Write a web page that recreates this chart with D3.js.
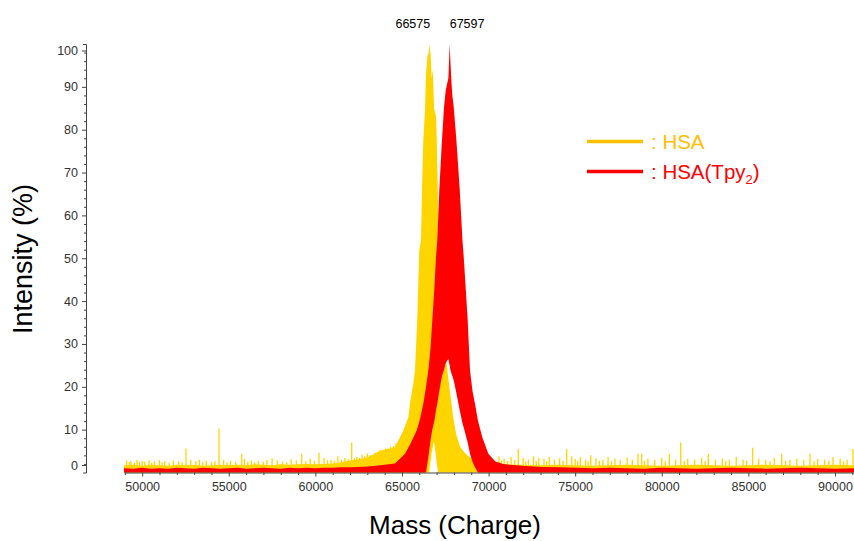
<!DOCTYPE html>
<html>
<head>
<meta charset="utf-8">
<script src="https://cdn.jsdelivr.net/npm/d3@7"></script>
<style>
  body { margin: 0; background: #fff; }
  svg { display: block; font-family: "Liberation Sans", Arial, sans-serif; }
</style>
</head>
<body>
<div id="wrapper"></div>
<script>
// HSA (yellow) trace: mass, upper and lower envelope (%)
const hsaMass = [48950, 49500, 50000, 50500, 51000, 51500, 52000, 52500, 53000, 53500, 54000, 54500, 55000, 55500, 56000, 56500, 57000, 57500, 58000, 58500, 59000, 59500, 60000, 60500, 61000, 61500, 62000, 62500, 63000, 63730, 64600, 64890, 65080, 65370, 65460, 65655, 65753, 65886, 66001, 66099, 66157, 66232, 66330, 66387, 66463, 66540, 66575, 66610, 66665, 66711, 66780, 66815, 66855, 66970, 67011, 67069, 67086, 67173, 67260, 67375, 67589, 67722, 67953, 68126, 68357, 68646, 68928, 69390, 70083, 70950, 72000, 73000, 74000, 75000, 76000, 77000, 78000, 79000, 80000, 81000, 82000, 83000, 84000, 85000, 86000, 87000, 88000, 89000, 90000, 91100]
const hsaHigh = [1.7, 1.8, 1.6, 1.8, 1.7, 1.6, 1.8, 1.7, 1.8, 1.6, 1.7, 1.8, 1.7, 1.8, 1.7, 1.9, 1.8, 1.7, 1.9, 1.8, 1.9, 2.0, 1.9, 2.0, 2.1, 2.4, 2.8, 3.1, 3.5, 5.1, 5.9, 8.2, 9.8, 12.9, 16.1, 20.7, 23.8, 36.3, 51.9, 54.2, 65.9, 77.6, 84.6, 93, 97, 98, 100, 99, 97, 92, 94, 90, 85, 83, 77.6, 66, 54, 45, 38, 32, 25, 20.5, 13, 9, 6, 4.5, 3.5, 2.6, 2.2, 1.9, 1.8, 1.7, 1.8, 1.7, 1.6, 1.7, 1.8, 1.7, 1.6, 1.7, 1.8, 1.7, 1.6, 1.7, 1.8, 1.7, 1.6, 1.7, 1.8, 1.7]
const hsaLow = [0, 0, 0, 0, 0, 0, 0, 0, 0, 0, 0, 0, 0, 0, 0, 0, 0, 0, 0, 0, 0, 0, 0, 0, 0, 0, 0, 0, 0, 0, 0, 0, 0, 0, 0, 0, 0, 0, 0, 0, 0, 0, 0, 0, 0, 0, 0, 1.5, 3, 4.5, 6, 6.8, 7.2, 3.5, 2, 0.5, 0, 0, 0, 0, 0, 0, 0, 0, 0, 0, 0, 0, 0, 0, 0, 0, 0, 0, 0, 0, 0, 0, 0, 0, 0, 0, 0, 0, 0, 0, 0, 0, 0, 0]

// HSA baseline noise spikes
const hsaSpikeMass = [49100, 49250, 49350, 49550, 49700, 49850, 50000, 50150, 50400, 50550, 50700, 51000, 51150, 51300, 51550, 51800, 52100, 52300, 52530, 52800, 53100, 53300, 53500, 53700, 54000, 54200, 54435, 54700, 54900, 55100, 55400, 55746, 55900, 56100, 56300, 56500, 56700, 57000, 57200, 57500, 57800, 58100, 58350, 58600, 58900, 59210, 59450, 59700, 59950, 60209, 60500, 60700, 60900, 61100, 61300, 61500, 61700, 61900, 62097, 62250, 62400, 62550, 62700, 62850, 63000, 63150, 63300, 63450, 63600, 63750, 63900, 64050, 64200, 64350, 64500, 64650, 64800, 64950, 65100, 69600, 69800, 70050, 70300, 70600, 70750, 70900, 71100, 71300, 71500, 71717, 72000, 72150, 72300, 72600, 72750, 72900, 73200, 73350, 73500, 73800, 74100, 74300, 74512, 74800, 75000, 75150, 75300, 75600, 75750, 75900, 76200, 76400, 76600, 76900, 77100, 77300, 77600, 78000, 78300, 78628, 78843, 79000, 79200, 79600, 80000, 80200, 80436, 80800, 81094, 81300, 81500, 81900, 82300, 82500, 82688, 83100, 83500, 83700, 83900, 84300, 84700, 84900, 85251, 85600, 86000, 86250, 86500, 86926, 87150, 87400, 87800, 88200, 88560, 88800, 89000, 89400, 89650, 89888, 90300, 90500, 90700, 91043]
const hsaSpikeHeight = [2.8, 2.4, 2.6, 2.3, 2.9, 2.5, 2.7, 2.5, 2.8, 2.3, 2.6, 2.9, 2.4, 2.7, 2.3, 2.8, 2.6, 2.4, 5.6, 2.9, 2.7, 3.0, 2.4, 2.8, 2.5, 2.6, 10.2, 2.9, 2.4, 2.7, 2.5, 4.4, 3.2, 2.5, 2.8, 2.4, 2.7, 2.5, 2.9, 3.3, 2.8, 2.6, 2.4, 3.1, 2.8, 4.4, 2.6, 3.2, 2.7, 4.6, 3.4, 2.8, 3.0, 2.7, 3.8, 2.9, 3.4, 3.1, 7.0, 3.3, 3.6, 3.4, 4.2, 3.8, 4.5, 4.1, 4.0, 4.6, 4.8, 5.2, 5.0, 5.6, 5.6, 6.0, 6.2, 6.8, 7.4, 8.0, 9.0, 3.6, 3.4, 3.1, 3.0, 3.8, 2.8, 3.2, 2.7, 3.6, 2.9, 5.5, 3.4, 2.6, 3.0, 3.8, 2.7, 3.4, 3.2, 2.6, 3.6, 3.0, 3.3, 2.7, 5.5, 3.8, 3.2, 2.7, 3.6, 3.0, 2.6, 4.0, 3.4, 2.7, 3.0, 3.6, 2.6, 3.2, 3.0, 3.5, 3.0, 4.4, 4.4, 2.7, 3.2, 3.0, 3.4, 2.6, 4.4, 3.0, 7.0, 2.7, 3.2, 3.0, 3.4, 2.6, 4.4, 3.0, 3.3, 2.6, 3.0, 3.6, 3.0, 2.7, 5.8, 3.2, 3.0, 2.6, 3.4, 4.4, 2.7, 3.0, 3.2, 3.0, 4.4, 2.6, 3.2, 3.0, 2.7, 3.6, 3.2, 2.6, 3.0, 5.5]

// HSA(Tpy2) (red) trace
const tpyMass = [48950, 49500, 50000, 50500, 51000, 51500, 52000, 52500, 53000, 53500, 54000, 54500, 55000, 55500, 56000, 56500, 57000, 57500, 58000, 58500, 59000, 59500, 60000, 60500, 61000, 61500, 62000, 62500, 63000, 63500, 64000, 64600, 65175, 65460, 65850, 66040, 66230, 66390, 66520, 66650, 66750, 66870, 66965, 67040, 67155, 67310, 67430, 67520, 67595, 67680, 67727, 67756, 67796, 67866, 67910, 67987, 68142, 68336, 68492, 68566, 68796, 68928, 69072, 69217, 69390, 69638, 69985, 70372, 70834, 71238, 72104, 73143, 74000, 75100, 76000, 77000, 78000, 79000, 80000, 81000, 82000, 83000, 84000, 85000, 86000, 87000, 88000, 89000, 90000, 91100]
const tpyHigh = [1.0, 0.9, 1.1, 0.9, 1.0, 0.9, 1.1, 1.0, 0.9, 1.1, 1.0, 0.9, 1.0, 1.1, 0.9, 1.0, 1.1, 1.0, 0.9, 1.1, 1.0, 1.1, 1.0, 1.1, 1.1, 1.2, 1.2, 1.3, 1.4, 1.6, 1.8, 2.1, 4.4, 6.5, 9.8, 12.5, 16, 20, 23.8, 29, 35.5, 43, 50.3, 54.2, 65.9, 77.6, 85.3, 89, 90.5, 92, 97, 100, 96, 90.5, 88, 85.3, 77.6, 65.9, 54.2, 50.3, 35.5, 23.8, 19, 16, 12, 8.2, 4.4, 2.6, 2.0, 1.8, 1.5, 1.3, 1.2, 1.1, 1.0, 1.1, 1.0, 0.9, 1.1, 1.0, 0.9, 1.0, 1.1, 1.0, 0.9, 1.0, 1.1, 1.0, 0.9, 1.0]
const tpyLow = [0, 0, 0, 0, 0, 0, 0, 0, 0, 0, 0, 0, 0, 0, 0, 0, 0, 0, 0, 0, 0, 0, 0, 0, 0, 0, 0, 0, 0, 0, 0, 0, 0, 0, 0, 0, 0, 0, 3.5, 7.5, 10, 12, 14.5, 16, 19, 22.5, 24, 25.5, 26, 26.5, 25.5, 25, 24, 23, 22.5, 21.5, 18.5, 14.5, 11.5, 10.5, 7, 4.4, 2.5, 1.2, 0, 0, 0, 0, 0, 0, 0, 0, 0, 0, 0, 0, 0, 0, 0, 0, 0, 0, 0, 0, 0, 0, 0, 0, 0, 0]

// axis ticks and labels
const xTicks = [50000, 55000, 60000, 65000, 70000, 75000, 80000, 85000, 90000]
const yTicks = [10, 20, 30, 40, 50, 60, 70, 80, 90]
const peakLabels = ["66575", "67597"]
const legendNames = ["HSA", "HSA(Tpy"]

const hsaColor = "#FFD500"
const tpyColor = "#FF0000"

function drawSpectrum() {
  const width = 854
  const height = 541

  const svg = d3.select("#wrapper")
    .append("svg")
    .attr("width", width)
    .attr("height", height)

  const xScale = d3.scaleLinear()
    .domain([48950, 91100])
    .range([124, 854])

  const yScale = d3.scaleLinear()
    .domain([0, 100])
    .range([472.5, 44])

  const hsa = hsaMass.map((m, i) => ({ mass: m, lo: hsaLow[i], hi: hsaHigh[i] }))
  const tpy = tpyMass.map((m, i) => ({ mass: m, lo: tpyLow[i], hi: tpyHigh[i] }))

  const areaGenerator = d3.area()
    .x(d => xScale(d.mass))
    .y0(d => yScale(d.lo))
    .y1(d => yScale(d.hi))

  // yellow trace
  svg.append("path")
    .attr("d", areaGenerator(hsa))
    .attr("fill", hsaColor)

  svg.append("g")
    .selectAll("line")
    .data(hsaSpikeMass)
    .join("line")
    .attr("x1", d => xScale(d))
    .attr("x2", d => xScale(d))
    .attr("y1", yScale(0))
    .attr("y2", (d, i) => yScale(hsaSpikeHeight[i]))
    .attr("stroke", hsaColor)
    .attr("stroke-width", 1.3)

  // red trace on top
  svg.append("path")
    .attr("d", areaGenerator(tpy))
    .attr("fill", tpyColor)

  // Y axis
  const yAxis = svg.append("g")
    .attr("transform", "translate(86,0)")
    .call(d3.axisLeft(yScale).tickValues(yTicks).tickSize(4).tickSizeOuter(3).tickPadding(4))
  yAxis.append("g")
    .call(d3.axisLeft(yScale)
      .tickValues(d3.range(2, 100, 2).filter(v => v % 10 !== 0))
      .tickSize(2).tickFormat(""))
    .select(".domain").remove()

  // 0 and 100 labels sit just inside the axis ends
  const endLabels = [[0, -7], [100, 7]]
  endLabels.forEach(([v, shift]) => {
    const yPos = yScale(v) + shift
    yAxis.append("line")
      .attr("x1", -4).attr("x2", 0)
      .attr("y1", yPos).attr("y2", yPos)
      .attr("stroke", "#444")
    yAxis.append("text")
      .attr("x", -8)
      .attr("y", yPos)
      .attr("dy", "0.32em")
      .attr("text-anchor", "end")
      .text(v)
  })

  // X axis
  const xAxis = svg.append("g")
    .attr("transform", `translate(0,${yScale(0)})`)
    .call(d3.axisBottom(xScale).tickValues(xTicks).tickFormat(d3.format("d"))
      .tickSize(4).tickSizeOuter(0).tickPadding(6))
  xAxis.append("g")
    .call(d3.axisBottom(xScale)
      .tickValues(d3.range(49000, 91001, 1000).filter(v => v % 5000 !== 0))
      .tickSize(2.5).tickFormat(""))
    .select(".domain").remove()

  svg.selectAll(".domain, .tick line").attr("stroke", "#444")
  svg.selectAll("g text")
    .attr("fill", "#333")
    .style("font-size", "12.5px")
    .style("font-family", "\"Liberation Sans\", Arial, sans-serif")

  // axis titles
  svg.append("text")
    .attr("transform", "translate(32,259) rotate(-90)")
    .attr("text-anchor", "middle")
    .style("font-size", "27px")
    .attr("fill", "#000")
    .text("Intensity (%)")

  svg.append("text")
    .attr("x", 455)
    .attr("y", 534)
    .attr("text-anchor", "middle")
    .style("font-size", "26px")
    .attr("fill", "#000")
    .text("Mass (Charge)")

  // peak labels
  const hsaTop = hsa[d3.maxIndex(hsa, d => d.hi)]
  const tpyTop = tpy[d3.maxIndex(tpy, d => d.hi)]
  svg.append("text")
    .attr("x", xScale(hsaTop.mass) + 1)
    .attr("y", 28)
    .attr("text-anchor", "end")
    .style("font-size", "12.5px")
    .text(peakLabels[0])
  svg.append("text")
    .attr("x", xScale(tpyTop.mass))
    .attr("y", 28)
    .attr("text-anchor", "start")
    .style("font-size", "12.5px")
    .text(peakLabels[1])

  // legend
  const legend = svg.append("g")
  legend.append("line")
    .attr("x1", 587).attr("x2", 643)
    .attr("y1", 141.5).attr("y2", 141.5)
    .attr("stroke", "#FFC000")
    .attr("stroke-width", 3.5)
  legend.append("text")
    .attr("x", 651)
    .attr("y", 149)
    .attr("fill", "#FFC000")
    .style("font-size", "20.5px")
    .text(": " + legendNames[0])

  legend.append("line")
    .attr("x1", 587).attr("x2", 643)
    .attr("y1", 171.5).attr("y2", 171.5)
    .attr("stroke", tpyColor)
    .attr("stroke-width", 3.5)
  const redText = legend.append("text")
    .attr("x", 651)
    .attr("y", 178.5)
    .attr("fill", tpyColor)
    .style("font-size", "20.5px")
  redText.append("tspan").text(": " + legendNames[1])
  redText.append("tspan")
    .attr("dy", 5)
    .style("font-size", "13px")
    .text("2")
  redText.append("tspan")
    .attr("dy", -5)
    .text(")")
}

drawSpectrum()
</script>
</body>
</html>
